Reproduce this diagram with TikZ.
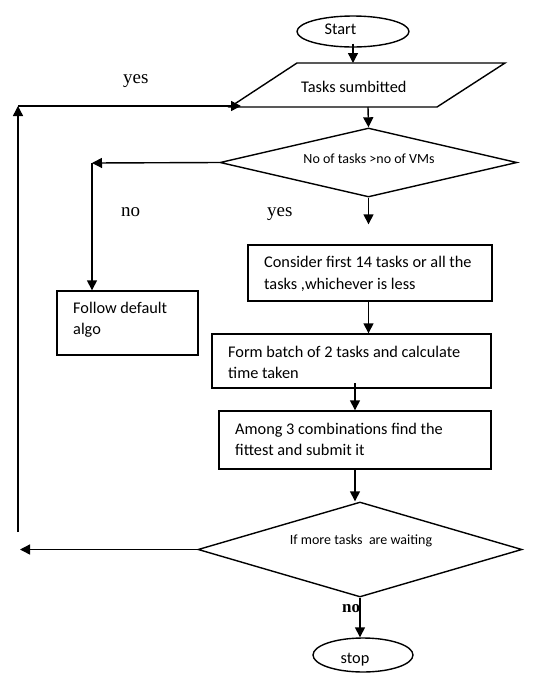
\documentclass[tikz,border=0pt]{standalone}
\usepackage{fontspec}
\setmainfont{Carlito}
\newfontfamily\timesf{Liberation Serif}
\usetikzlibrary{shapes.geometric,arrows.meta}
\begin{document}
\begin{tikzpicture}[x=1pt,y=-1pt,
  line/.style={line width=1.4pt},
  arr/.style={line width=1.4pt,-{Triangle[length=10pt,width=10pt]}},
  stepbox/.style={draw,line width=1.4pt,rectangle,inner sep=0pt},
  oval/.style={draw,line width=1.4pt,ellipse,inner sep=0pt},
  decision/.style={draw,line width=1.4pt,diamond,inner sep=0pt},
  btxt/.style={font=\fontsize{16.3}{19}\selectfont,inner sep=0pt},
  dtxt/.style={font=\fontsize{14}{17}\selectfont,inner sep=0pt},
  lbl/.style={font=\timesf\fontsize{19}{22}\selectfont,inner sep=0pt},
  blbl/.style={font=\timesf\bfseries\fontsize{17}{20}\selectfont,inner sep=0pt}]
\useasboundingbox (0,0) rectangle (534,673);
\fill[white] (0,0) rectangle (534,673);

% start
\node[oval,minimum width=112pt,minimum height=31pt] (start) at (353,31.5) {};
\node[btxt,anchor=base] (starttxt) at (340.5,34) {Start};

% parallelogram
\coordinate (pTL) at (297,63);
\coordinate (pTR) at (505,63);
\coordinate (pBR) at (437,107);
\coordinate (pBL) at (230,107);
\draw[line] (pTL) -- (pTR) -- (pBR) -- (pBL) -- cycle;
\node[btxt,anchor=base west] (tasks) at (301,92) {Tasks sumbitted};
\coordinate (pin) at (354,63);
\coordinate (pout) at (368,107);

% decision 1
\node[decision,minimum width=297pt,minimum height=69pt,aspect=4.3] (d1) at (368.5,162.5) {};
\node[dtxt,anchor=base] (d1txt) at (369,163) {No of tasks >no of VMs};

% boxes
\node[stepbox,minimum width=244pt,minimum height=56pt] (consider) at (370,273) {};
\node[btxt,anchor=base west] (c1) at (264,267) {Consider first 14 tasks or all the};
\node[btxt,anchor=base west] (c2) at (264,289) {tasks ,whichever is less};

\node[stepbox,minimum width=141pt,minimum height=64pt] (follow) at (127.5,323) {};
\node[btxt,anchor=base west] (f1) at (73,313) {Follow default};
\node[btxt,anchor=base west] (f2) at (73,334) {algo};

\node[stepbox,minimum width=279pt,minimum height=54pt] (form) at (351.5,361) {};
\node[btxt,anchor=base west] (fb1) at (228,357) {Form batch of 2 tasks and calculate};
\node[btxt,anchor=base west] (fb2) at (228,378) {time taken};

\node[stepbox,minimum width=272pt,minimum height=58pt] (among) at (355,440) {};
\node[btxt,anchor=base west] (a1) at (235,434) {Among 3 combinations find the};
\node[btxt,anchor=base west] (a2) at (235,455) {fittest and submit it};

% decision 2
\node[decision,minimum width=324pt,minimum height=95pt,aspect=3.41] (d2) at (360,549.5) {};
\node[dtxt,anchor=base] (d2txt) at (361,544) {If more tasks\ \ are waiting};

% stop
\node[oval,minimum width=100pt,minimum height=34pt] (stop) at (363,655) {};
\node[btxt,anchor=base] (stoptxt) at (355,663) {stop};

% labels
\node[lbl,anchor=base west] (yes1) at (123,83) {yes};
\node[lbl,anchor=base west] (no1) at (121,216) {no};
\node[lbl,anchor=base west] (yes2) at (267,216) {yes};
\node[blbl,anchor=base west] (no2) at (342,612) {no};

% connectors
\draw[arr] ([yshift=4pt]start.south) -- (start.south |- pin);
\draw[arr] (pout) -- (d1.north);
\coordinate (cl) at (92,163);
\draw[arr] (d1.west) -- (cl);
\draw[arr] (cl) -- (cl |- follow.north);
\draw[arr,shorten >=20pt] (d1.south) -- (d1.south |- consider.north);
\draw[arr] (consider.south -| d1.south) -- (d1.south |- form.north);
\coordinate (fa) at (355,383);
\draw[arr] (fa) -- (fa |- among.north);
\draw[arr] (among.south) -- (among.south |- d2.north);
\coordinate (lt) at (20,549.5);
\draw[arr] (d2.west) -- (lt);
\coordinate (vb) at (18,532);
\coordinate (vt) at (18,106);
\coordinate (ht) at (241,106);
\draw[arr] (vb) -- (vt);
\draw[arr] (vt) -- (ht);
\draw[arr] (d2.south) -- (d2.south |- stop.north);
\end{tikzpicture}
\end{document}
